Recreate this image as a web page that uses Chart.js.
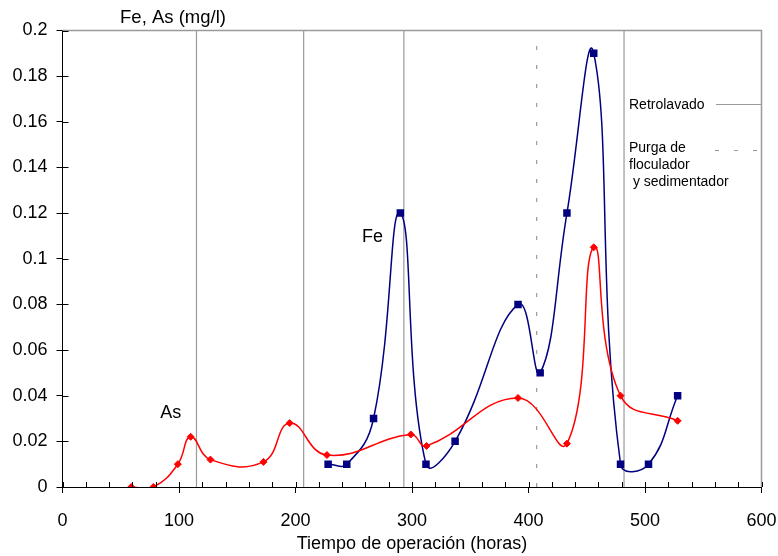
<!DOCTYPE html>
<html lang="es">
<head>
<meta charset="utf-8">
<title>Fe, As - Tiempo de operación</title>
<script src="https://cdn.jsdelivr.net/npm/chart.js@4.4.0/dist/chart.umd.min.js"></script>
<style>
  html, body { margin: 0; padding: 0; background: #fff; }
  #wrap { width: 778px; height: 556px; }
</style>
</head>
<body>
<div id="wrap"><canvas id="chart" width="778" height="556"></canvas></div>
<script>
// datos
const feHours = [228, 244, 267, 290, 312, 337, 391, 410, 433, 456, 479, 503, 528];
const feValues = [0.01, 0.01, 0.03, 0.12, 0.01, 0.02, 0.08, 0.05, 0.12, 0.19, 0.01, 0.01, 0.04];

const asHours = [59, 78, 99, 110, 127, 172.5, 195, 227, 299, 312.5, 391, 433, 456, 479, 528];
const asValues = [0, 0, 0.01, 0.022, 0.012, 0.011, 0.028, 0.014, 0.023, 0.018, 0.039, 0.019, 0.105, 0.04, 0.029];

// eventos (líneas verticales)
const retrolavadoHours = [115, 207, 293, 482];
const purgaHours = [407];

const xTickLabels = ['0', '100', '200', '300', '400', '500', '600'];
const yTickLabels = ['0', '0.02', '0.04', '0.06', '0.08', '0.1', '0.12', '0.14', '0.16', '0.18', '0.2'];

const FONT = '"Liberation Sans", Arial, Helvetica, sans-serif';

function toPoints(xs, ys) {
    return xs.map((x, i) => ({ x: x, y: ys[i] }));
}

function eventLine(h, dashed) {
    return {
        data: [{ x: h, y: 0 }, { x: h, y: 0.2 }],
        borderColor: '#9a9a9a',
        borderWidth: 1.2,
        borderDash: dashed ? [4, 15] : [],
        pointRadius: 0,
        tension: 0,
        order: 5
    };
}

// marcas interiores, marco gris y textos
const overlayPlugin = {
    id: 'overlay',
    afterDraw(chart) {
        const { ctx, chartArea: a, scales } = chart;
        const x = scales.x, y = scales.y;
        ctx.save();

        ctx.strokeStyle = '#9a9a9a';
        ctx.lineWidth = 1.5;
        ctx.beginPath();
        ctx.moveTo(a.left, a.top);
        ctx.lineTo(a.right, a.top);
        ctx.lineTo(a.right, a.bottom);
        ctx.stroke();

        ctx.strokeStyle = '#000';
        ctx.lineWidth = 1;
        ctx.beginPath();
        x.ticks.forEach(t => {
            const px = Math.round(x.getPixelForValue(t.value)) + 0.5;
            ctx.moveTo(px, a.bottom);
            ctx.lineTo(px, a.bottom - 5);
        });
        y.ticks.forEach(t => {
            const py = Math.round(y.getPixelForValue(t.value)) + 0.5;
            ctx.moveTo(a.left, py);
            ctx.lineTo(a.left + 6, py);
        });
        ctx.stroke();

        ctx.fillStyle = '#000';
        ctx.textBaseline = 'middle';
        ctx.textAlign = 'center';
        ctx.font = '18.5px ' + FONT;
        ctx.fillText('Fe, As (mg/l)', 173, 18);
        ctx.font = '18px ' + FONT;
        ctx.fillText('Fe', x.getPixelForValue(266), y.getPixelForValue(0.1096));
        ctx.fillText('As', x.getPixelForValue(93), y.getPixelForValue(0.0323));

        // leyenda de eventos
        ctx.textAlign = 'left';
        ctx.font = '14px ' + FONT;
        ctx.fillText('Retrolavado', 629, 105);
        ctx.fillText('Purga de', 629, 148);
        ctx.fillText('floculador', 629, 165);
        ctx.fillText(' y sedimentador', 629, 182);

        ctx.strokeStyle = '#9a9a9a';
        ctx.lineWidth = 1.2;
        ctx.beginPath();
        ctx.moveTo(716, 104.5);
        ctx.lineTo(761, 104.5);
        ctx.stroke();
        ctx.setLineDash([4, 15]);
        ctx.beginPath();
        ctx.moveTo(715, 150.5);
        ctx.lineTo(761, 150.5);
        ctx.stroke();

        ctx.restore();
    }
};

const datasets = [
    {
        label: 'Fe',
        data: toPoints(feHours, feValues),
        borderColor: '#000080',
        backgroundColor: '#000080',
        borderWidth: 1.5,
        pointStyle: 'rect',
        pointRadius: 5.3,
        pointBorderWidth: 0,
        tension: 0.45,
        order: 1
    },
    {
        label: 'As',
        data: toPoints(asHours, asValues),
        borderColor: '#ff0000',
        backgroundColor: '#ff0000',
        borderWidth: 1.5,
        pointStyle: 'rectRot',
        pointRadius: 3.5,
        pointBorderWidth: 1,
        tension: 0.45,
        order: 0
    }
];
retrolavadoHours.forEach(h => datasets.push(eventLine(h, false)));
purgaHours.forEach(h => datasets.push(eventLine(h, true)));

new Chart(document.getElementById('chart'), {
    type: 'line',
    data: { datasets: datasets },
    plugins: [overlayPlugin],
    options: {
        responsive: false,
        animation: false,
        devicePixelRatio: 1,
        layout: { padding: { top: 30.5, right: 16.5, left: 0, bottom: 0 } },
        plugins: {
            legend: { display: false },
            tooltip: { enabled: false }
        },
        elements: { line: { capBezierPoints: false } },
        scales: {
            x: {
                type: 'linear',
                min: 0,
                max: 600,
                afterFit: s => {
                    s.height = 69;
                    s.paddingLeft = 0;
                    s.paddingRight = 0;
                },
                border: { color: '#000', width: 1 },
                grid: {
                    drawOnChartArea: false,
                    tickLength: 6,
                    tickColor: c => (c.tick && c.tick.value % 100 === 0) ? '#000' : 'rgba(0,0,0,0)'
                },
                ticks: {
                    stepSize: 20,
                    autoSkip: false,
                    maxRotation: 0,
                    padding: 17,
                    color: '#000',
                    font: { family: FONT, size: 18 },
                    callback: v => v % 100 === 0 ? xTickLabels[v / 100] : ''
                },
                title: {
                    display: true,
                    text: 'Tiempo de operación (horas)',
                    color: '#000',
                    font: { family: FONT, size: 18 },
                    padding: { top: 0, bottom: 1 }
                }
            },
            y: {
                min: 0,
                max: 0.2,
                afterFit: s => { s.width = 62.5; },
                border: { color: '#000', width: 1 },
                grid: {
                    drawOnChartArea: false,
                    tickLength: 6,
                    tickColor: '#000'
                },
                ticks: {
                    stepSize: 0.02,
                    padding: 9,
                    color: '#000',
                    font: { family: FONT, size: 18 },
                    callback: v => yTickLabels[Math.round(v / 0.02)]
                }
            }
        }
    }
});
</script>
</body>
</html>
